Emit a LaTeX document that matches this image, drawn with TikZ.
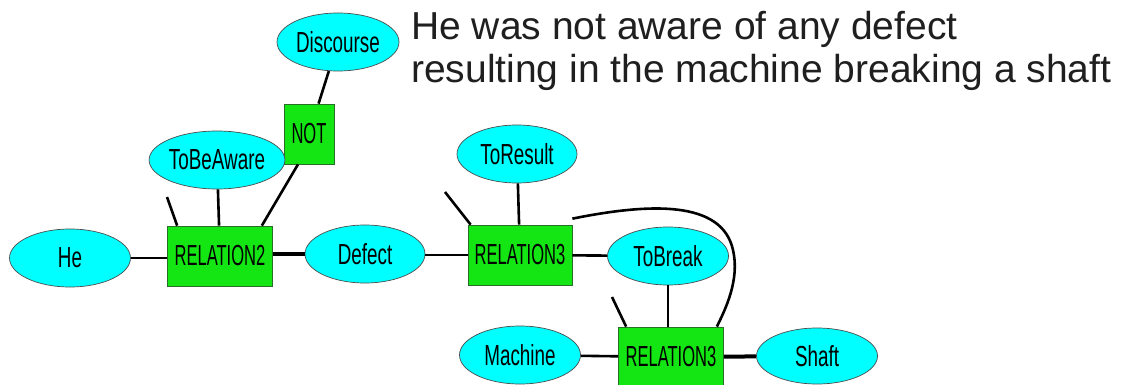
\documentclass[tikz,border=0pt]{standalone}
\usepackage{fontspec}
\setmainfont{Liberation Sans}
\newfontfamily\ellfont[FakeStretch=0.65]{Liberation Sans}
\newfontfamily\relfont[FakeStretch=0.57]{Liberation Sans}
\usetikzlibrary{shapes.geometric}
\definecolor{cyanfill}{RGB}{0,255,255}
\definecolor{relgreen}{RGB}{20,230,20}
\definecolor{relborder}{RGB}{40,110,40}
\begin{document}
\begin{tikzpicture}[x=1pt,y=-1pt,
  concept/.style={ellipse,draw=black!70,line width=0.7pt,fill=cyanfill,inner sep=0pt,
    minimum width=#1,minimum height=58pt,font=\ellfont\fontsize{29}{30}\selectfont},
  concept/.default=121pt,
  relbox/.style={rectangle,draw=relborder,line width=0.7pt,fill=relgreen,inner sep=0pt,
    minimum width=105pt,minimum height=60pt,font=\relfont\fontsize{29}{30}\selectfont},
  link/.style={line width=2.6pt,black},
  thicklink/.style={line width=4pt,black}]
\useasboundingbox (0,0) rectangle (1131,385);
\fill[white] (0,0) rectangle (1131,385);

\node[concept=122pt] (disc) at (338,42) {Discourse};
\node[relbox,minimum width=50pt,minimum height=60pt] (not) at (309,134) {NOT};
\node[concept=120pt] (aware) at (217,160) {ToBeAware};
\node[relbox] (rel2) at (220,256) {RELATION2};
\node[concept] (he) at (70,258) {He};
\node[concept=120pt] (defect) at (365,254) {Defect};
\node[concept=120pt] (result) at (517,154) {ToResult};
\node[relbox,minimum width=104pt] (rel3a) at (520,255) {RELATION3};
\node[concept] (break) at (668,256) {ToBreak};
\node[relbox] (rel3b) at (671,357) {RELATION3};
\node[concept] (machine) at (520,355) {Machine};
\node[concept,minimum height=56pt] (shaft) at (817,356) {Shaft};

\node[anchor=north west,font=\fontsize{39}{43}\selectfont,text=black!88,align=left,inner sep=0pt]
  (title) at (411,11) {He was not aware of any defect\\resulting in the machine breaking a shaft};

\coordinate (s2) at (167,197);
\coordinate (s3a) at (445,192);
\coordinate (s3b) at (612,297);

\draw[link] (disc) -- (not);
\draw[link] ([xshift=-11pt]not.south) -- ([xshift=-11pt]rel2.north east);
\draw[link] (aware) -- (rel2);
\draw[link] (s2) -- ([xshift=10pt]rel2.north west);
\draw[link] (he) -- (he -| rel2.west);
\draw[thicklink] (rel2.east |- defect) -- (defect);
\draw[link] (defect.east |- rel3a) -- (rel3a);
\draw[link] (result) -- (rel3a);
\draw[link] (s3a) -- ([xshift=3pt]rel3a.north west);
\draw[link] (rel3a) -- (break);
\draw[link] (break) -- (break |- rel3b.north);
\draw[link] (s3b) -- ([xshift=8pt]rel3b.north west);
\draw[link] (machine) -- (rel3b);
\draw[thicklink] (rel3b) -- (shaft);
\draw[link] ([yshift=6pt]rel3a.north east) .. controls (650,203) and (722,200) .. (733,250)
  .. controls (740,280) and (725,310) .. ([xshift=-7pt]rel3b.north east);
\end{tikzpicture}
\end{document}
